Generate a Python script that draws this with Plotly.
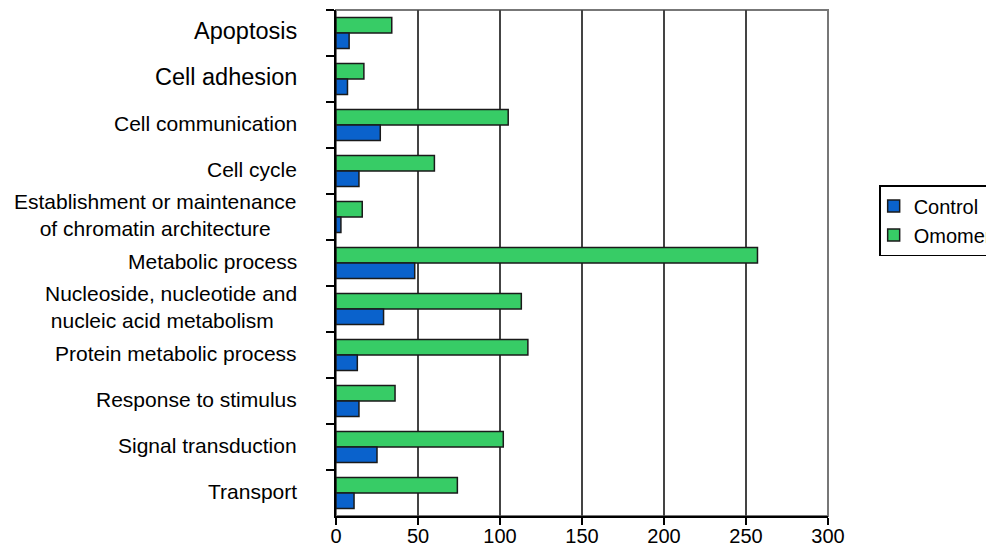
import plotly.graph_objects as go

categories = [
    "Apoptosis",
    "Cell adhesion",
    "Cell communication",
    "Cell cycle",
    "Establishment or maintenance of chromatin architecture",
    "Metabolic process",
    "Nucleoside, nucleotide and nucleic acid metabolism",
    "Protein metabolic process",
    "Response to stimulus",
    "Signal transduction",
    "Transport",
]
tick_labels = [
    "Apoptosis",
    "Cell adhesion",
    "Cell communication",
    "Cell cycle",
    "Establishment or maintenance<br>of chromatin architecture",
    "Metabolic process",
    "Nucleoside, nucleotide and<br>&nbsp;nucleic acid metabolism",
    "Protein metabolic process",
    "Response to stimulus",
    "Signal transduction",
    "Transport",
]
control = [8, 7, 27, 14, 3, 48, 29, 13, 14, 25, 11]
omomer = [34, 17, 105, 60, 16, 257, 113, 117, 36, 102, 74]
x_ticks = [0, 50, 100, 150, 200, 250, 300]

FONT = "Liberation Sans, Arial, sans-serif"
BLUE = "#0A62CC"
GREEN = "#37CC66"
EDGE = "#1a1a1a"

fig = go.Figure()
fig.add_trace(go.Bar(
    y=categories, x=omomer, name="Omomer", orientation="h",
    marker=dict(color=GREEN, line=dict(color=EDGE, width=1.5)),
))
fig.add_trace(go.Bar(
    y=categories, x=control, name="Control", orientation="h",
    marker=dict(color=BLUE, line=dict(color=EDGE, width=1.5)),
))

big = {"Apoptosis": 23.5, "Cell adhesion": 23.5}
align = {
    "Establishment or maintenance of chromatin architecture": "center",
    "Nucleoside, nucleotide and nucleic acid metabolism": "left",
}
for cat, lab in zip(categories, tick_labels):
    fig.add_annotation(
        x=-0.075, xref="paper", y=cat, yref="y", yshift=2,
        text=lab, showarrow=False, xanchor="right", yanchor="middle",
        align=align.get(cat, "right"),
        font=dict(family=FONT, size=big.get(cat, 21), color="black"),
    )

fig.add_shape(type="rect", xref="paper", yref="paper", x0=0, x1=1, y0=0, y1=1,
              line=dict(color="#777777", width=2), layer="below")

# page body has an 8px margin, so the figure is 8px smaller and offset
fig.update_layout(
    width=986, height=539,
    margin=dict(l=328, r=166, t=2, b=31, autoexpand=False),
    paper_bgcolor="white", plot_bgcolor="white",
    barmode="group", bargap=0.33, bargroupgap=0,
    font=dict(family=FONT, color="black"),
    showlegend=True,
    legend=dict(
        x=1.104, xanchor="left", y=0.654, yanchor="top",
        traceorder="reversed", indentation=-7,
        bordercolor="black", borderwidth=1.5,
        font=dict(family=FONT, size=20, color="black"),
        bgcolor="white",
    ),
    xaxis=dict(
        range=[0, 300], tickvals=x_ticks, ticktext=[str(v) for v in x_ticks],
        showgrid=True, gridcolor="#444444", gridwidth=1.5,
        ticks="outside", ticklen=7, tickcolor="black", tickwidth=1.5,
        ticklabelstandoff=-6,
        showline=True, linecolor="black", linewidth=2,
        tickfont=dict(family=FONT, size=20, color="black"),
        zeroline=False,
    ),
    yaxis=dict(
        type="category", categoryorder="array", categoryarray=categories,
        autorange="reversed",
        ticks="outside", tickson="boundaries", ticklen=8,
        tickcolor="black", tickwidth=1.5,
        showticklabels=False,
        showline=True, linecolor="black", linewidth=2,
        showgrid=False, zeroline=False,
    ),
)

fig.write_html("out.html")
